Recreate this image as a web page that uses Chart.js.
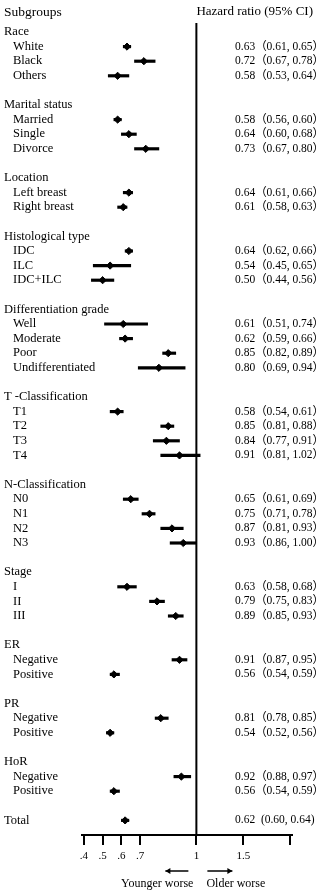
<!DOCTYPE html>
<html>
<head>
<meta charset="utf-8">
<script src="https://cdn.jsdelivr.net/npm/chart.js@4"></script>
<style>
  html, body { margin: 0; padding: 0; background: #fff; }
  #wrap { width: 322px; height: 894px; }
</style>
</head>
<body>
<div id="wrap"><canvas id="forest" width="322" height="894"></canvas></div>
<script>
// rows of the forest plot, top to bottom ('' = spacer row)
const categories = [
  'Race', 'White', 'Black', 'Others', '',
  'Marital status', 'Married', 'Single', 'Divorce', '',
  'Location', 'Left breast', 'Right breast', '',
  'Histological type', 'IDC', 'ILC', 'IDC+ILC', '',
  'Differentiation grade', 'Well', 'Moderate', 'Poor', 'Undifferentiated', '',
  'T -Classification', 'T1', 'T2', 'T3', 'T4', '',
  'N-Classification', 'N0', 'N1', 'N2', 'N3', '',
  'Stage', 'I', 'II', 'III', '',
  'ER', 'Negative', 'Positive', '',
  'PR', 'Negative', 'Positive', '',
  'HoR', 'Negative', 'Positive', '',
  'Total', ''
];
const headerRows = ['Race', 'Marital status', 'Location', 'Histological type', 'Differentiation grade',
  'T -Classification', 'N-Classification', 'Stage', 'ER', 'PR', 'HoR', 'Total'];

const hazard = [
  null, 0.63, 0.72, 0.58, null,
  null, 0.58, 0.64, 0.73, null,
  null, 0.64, 0.61, null,
  null, 0.64, 0.54, 0.50, null,
  null, 0.61, 0.62, 0.85, 0.80, null,
  null, 0.58, 0.85, 0.84, 0.91, null,
  null, 0.65, 0.75, 0.87, 0.93, null,
  null, 0.63, 0.79, 0.89, null,
  null, 0.91, 0.56, null,
  null, 0.81, 0.54, null,
  null, 0.92, 0.56, null,
  0.62, null
];
const lower = [
  null, 0.61, 0.67, 0.53, null,
  null, 0.56, 0.60, 0.67, null,
  null, 0.61, 0.58, null,
  null, 0.62, 0.45, 0.44, null,
  null, 0.51, 0.59, 0.82, 0.69, null,
  null, 0.54, 0.81, 0.77, 0.81, null,
  null, 0.61, 0.71, 0.81, 0.86, null,
  null, 0.58, 0.75, 0.85, null,
  null, 0.87, 0.54, null,
  null, 0.78, 0.52, null,
  null, 0.88, 0.54, null,
  0.60, null
];
const upper = [
  null, 0.65, 0.78, 0.64, null,
  null, 0.60, 0.68, 0.80, null,
  null, 0.66, 0.63, null,
  null, 0.66, 0.65, 0.56, null,
  null, 0.74, 0.66, 0.89, 0.94, null,
  null, 0.61, 0.88, 0.91, 1.02, null,
  null, 0.69, 0.78, 0.93, 1.00, null,
  null, 0.68, 0.83, 0.93, null,
  null, 0.95, 0.59, null,
  null, 0.85, 0.56, null,
  null, 0.97, 0.59, null,
  0.64, null
];

// x axis as printed in the figure
const tickValues = [0.4, 0.5, 0.6, 0.7, 1, 1.25, 1.5];
const tickLabels = ['.4', '.5', '.6', '.7', '1', '1.5', ''];

const SERIF = "'Liberation Serif', 'Times New Roman', serif";
const HR_FONT = "11.5px 'Liberation Serif', 'Noto Sans CJK SC', serif";

const ciData = categories.map((c, i) => (lower[i] == null ? null : [lower[i], upper[i]]));

const fmt = (v) => v.toFixed(2);

// reference line, subgroup names, headers, hazard ratio column, direction arrows
const annotations = {
  id: 'annotations',
  beforeDatasetsDraw(chart) {
    const { ctx, chartArea } = chart;
    const one = chart.scales.x.getPixelForValue(1);
    ctx.save();
    ctx.strokeStyle = '#000';
    ctx.lineWidth = 2;
    ctx.beginPath();
    ctx.moveTo(one, 23);
    ctx.lineTo(one, chartArea.bottom);
    ctx.stroke();
    ctx.restore();
  },
  afterDraw(chart) {
    const { ctx } = chart;
    const x = chart.scales.x;
    const y = chart.scales.y;
    const one = x.getPixelForValue(1);
    ctx.save();
    ctx.fillStyle = '#000';
    ctx.textBaseline = 'middle';
    ctx.textAlign = 'left';
    ctx.font = '13.5px ' + SERIF;
    ctx.fillText('Subgroups', 4, 12);
    ctx.font = '13px ' + SERIF;
    ctx.fillText('Hazard ratio (95% CI)', one, 12);

    ctx.font = '12.5px ' + SERIF;
    categories.forEach((c, i) => {
      if (!c) return;
      const indent = headerRows.includes(c) ? 4 : 13;
      ctx.fillText(c, indent, y.getPixelForValue(i));
    });

    ctx.font = HR_FONT;
    categories.forEach((c, i) => {
      if (hazard[i] == null) return;
      const py = y.getPixelForValue(i);
      const txt = c === 'Total'
        ? `${fmt(hazard[i])}  (${fmt(lower[i])}, ${fmt(upper[i])})`
        : `${fmt(hazard[i])}（${fmt(lower[i])}, ${fmt(upper[i])}）`;
      ctx.fillText(txt, 235, py);
    });

    // arrows
    const ay = 871;
    ctx.strokeStyle = '#000';
    ctx.lineWidth = 1.5;
    const arrow = (x0, x1) => {
      const dir = Math.sign(x1 - x0);
      ctx.beginPath();
      ctx.moveTo(x0, ay);
      ctx.lineTo(x1, ay);
      ctx.stroke();
      ctx.beginPath();
      ctx.moveTo(x1, ay);
      ctx.lineTo(x1 - dir * 5, ay - 3);
      ctx.lineTo(x1 - dir * 5, ay + 3);
      ctx.closePath();
      ctx.fill();
    };
    arrow(one - 8, one - 31);
    arrow(one + 11, one + 36);

    ctx.font = '12px ' + SERIF;
    ctx.textAlign = 'right';
    ctx.fillText('Younger worse', one - 3, 884);
    ctx.textAlign = 'left';
    ctx.fillText('Older worse', one + 10, 884);
    ctx.restore();
  }
};

new Chart(document.getElementById('forest'), {
  type: 'bar',
  data: {
    labels: categories,
    datasets: [
      {
        type: 'bar',
        data: ciData,
        backgroundColor: '#000',
        barThickness: 2.5,
        borderSkipped: false
      },
      {
        type: 'line',
        data: hazard,
        showLine: false,
        pointStyle: 'rectRot',
        pointRadius: 3.6,
        pointBackgroundColor: '#000',
        pointBorderColor: '#000',
        pointBorderWidth: 1
      }
    ]
  },
  options: {
    indexAxis: 'y',
    responsive: false,
    animation: false,
    layout: { padding: { left: 4, right: 30, top: 32, bottom: 0 } },
    plugins: { legend: { display: false }, tooltip: { enabled: false } },
    scales: {
      x: {
        type: 'linear',
        min: 0.39,
        max: 1.51,
        afterBuildTicks: (scale) => { scale.ticks = tickValues.map((v) => ({ value: v })); },
        afterFit: (scale) => { scale.height = 59; },
        border: { display: true, color: '#000', width: 2 },
        grid: {
          color: 'rgba(0,0,0,0)',
          tickColor: '#000',
          tickLength: 10,
          lineWidth: 2
        },
        ticks: {
          autoSkip: false,
          maxRotation: 0,
          padding: 5,
          color: '#000',
          font: { family: SERIF, size: 11 },
          callback: (v, i) => tickLabels[i]
        }
      },
      y: {
        type: 'category',
        offset: false,
        afterFit: (scale) => { scale.width = 78; },
        border: { display: false },
        grid: { display: false, drawTicks: false },
        ticks: { display: false }
      }
    }
  },
  plugins: [annotations]
});
</script>
</body>
</html>
